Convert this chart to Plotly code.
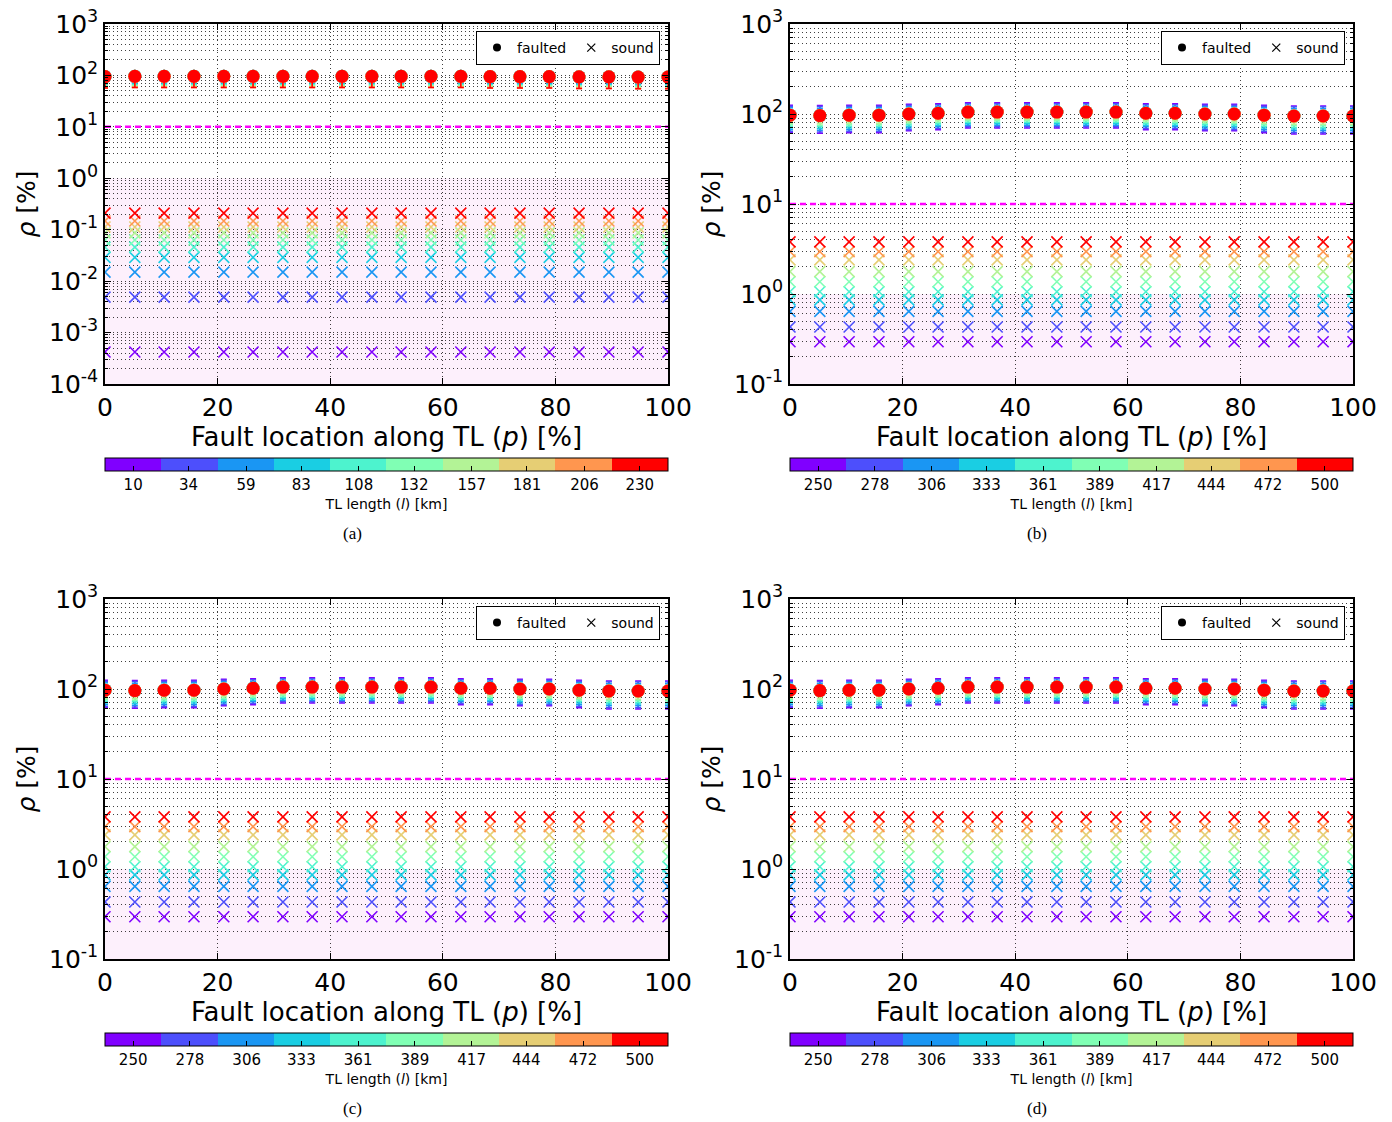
import plotly.graph_objects as go

W, H = 1392, 1122

# ---------------- data ----------------
fault_location = [0.0, 5.3, 10.5, 15.8, 21.1, 26.3, 31.6, 36.8, 42.1, 47.4,
                  52.6, 57.9, 63.2, 68.4, 73.7, 78.9, 84.2, 89.5, 94.7, 100.0]

lengths_a = [10, 34, 59, 83, 108, 132, 157, 181, 206, 230]
lengths_bcd = [250, 278, 306, 333, 361, 389, 417, 444, 472, 500]

# sound-phase rho [%] per TL length (flat along the line)
sound_a = [0.00042, 0.0049, 0.015, 0.029, 0.046, 0.063, 0.087, 0.113, 0.148, 0.21]
sound_bcd = [0.295, 0.43, 0.64, 0.86, 1.06, 1.37, 1.77, 2.39, 2.96, 3.8]

# faulted-phase rho [%] along the line
faulted_a = [95, 96, 96, 96, 96, 96, 96, 96, 96, 96,
             96, 96, 96, 95, 95, 95, 94, 94, 93, 93]
faulted_bcd = [97, 96, 97, 97, 100, 102, 105, 105, 105, 105,
               105, 105, 102, 102, 100, 100, 97, 95, 95, 95]

# spread of faulted values per TL length
err_minus_a = [20, 22, 25, 28, 30, 32, 34, 36, 38, 38]
err_plus_a = [10, 14, 6, 4, 3, 2, 2, 2, 2, 2]
err_minus_bcd = [35, 33, 30, 27, 24, 21, 18, 14, 10, 6]
err_plus_bcd = [28, 25, 20, 15, 12, 9, 7, 5, 3, 2]

threshold = 10

y_exponents_a = [-4, -3, -2, -1, 0, 1, 2, 3]
y_exponents_bcd = [-1, 0, 1, 2, 3]
x_ticks = [0, 20, 40, 60, 80, 100]

rainbow = ['#8000ff', '#4d4ffc', '#1a96f3', '#1acee3', '#4df3ce',
           '#80ffb4', '#b3f396', '#e6ce74', '#ff964f', '#ff0000']

# ---------------- layout helpers ----------------
panels = [
    dict(tag='(a)', px=(105, 668), py=(24, 384), exps=y_exponents_a, lengths=lengths_a,
         sound=sound_a, faulted=faulted_a, em=err_minus_a, ep=err_plus_a,
         cap=(352, 533), cby=458, leg='legend'),
    dict(tag='(b)', px=(790, 1353), py=(24, 384), exps=y_exponents_bcd, lengths=lengths_bcd,
         sound=sound_bcd, faulted=faulted_bcd, em=err_minus_bcd, ep=err_plus_bcd,
         cap=(1037, 533), cby=458, leg='legend2'),
    dict(tag='(c)', px=(105, 668), py=(599, 959), exps=y_exponents_bcd, lengths=lengths_bcd,
         sound=sound_bcd, faulted=faulted_bcd, em=err_minus_bcd, ep=err_plus_bcd,
         cap=(352, 1108), cby=1033, leg='legend3'),
    dict(tag='(d)', px=(790, 1353), py=(599, 959), exps=y_exponents_bcd, lengths=lengths_bcd,
         sound=sound_bcd, faulted=faulted_bcd, em=err_minus_bcd, ep=err_plus_bcd,
         cap=(1037, 1108), cby=1033, leg='legend4'),
]

FONT = 'DejaVu Sans'
GRIDC = 'rgba(0,0,0,0.75)'
GDASH = '1px,3px'

fig = go.Figure()
layout = dict(width=W, height=H, margin=dict(l=0, r=0, t=0, b=0, autoexpand=False),
              paper_bgcolor='white', plot_bgcolor='white',
              font=dict(family=FONT, color='black'), shapes=[], annotations=[])

for i, p in enumerate(panels, start=1):
    xa = 'x' if i == 1 else f'x{i}'
    ya = 'y' if i == 1 else f'y{i}'
    xkey = 'xaxis' if i == 1 else f'xaxis{i}'
    ykey = 'yaxis' if i == 1 else f'yaxis{i}'
    lengths = p['lengths']
    step = (lengths[-1] - lengths[0]) / (len(lengths) - 1)
    cmin, cmax = lengths[0] - step / 2, lengths[-1] + step / 2
    cscale = []
    for k, c in enumerate(rainbow):
        cscale.append([k / len(rainbow), c])
        cscale.append([(k + 1) / len(rainbow), c])

    # faulted (circles with spread bars), purple first so red is on top
    for k, L in enumerate(lengths):
        n = len(fault_location)
        fig.add_trace(go.Scatter(
            x=fault_location, y=p['faulted'], mode='markers', xaxis=xa, yaxis=ya,
            marker=dict(symbol='circle', size=13, color=rainbow[k], line=dict(width=0)),
            error_y=dict(type='data', symmetric=False, array=[p['ep'][k]] * n,
                         arrayminus=[p['em'][k]] * n, color=rainbow[k],
                         thickness=1.5, width=3),
            showlegend=False, hoverinfo='skip'))

    # sound (x markers), coloured by TL length through a discrete colorscale
    sx, sy, sc = [], [], []
    for k, L in enumerate(lengths):
        for xv in fault_location:
            sx.append(xv)
            sy.append(p['sound'][k])
            sc.append(L)
    cb_center = (p['px'][0] + p['px'][1]) / 2
    fig.add_trace(go.Scatter(
        x=sx, y=sy, mode='markers', xaxis=xa, yaxis=ya, showlegend=False, hoverinfo='skip',
        marker=dict(symbol='x-thin', size=11, color=sc, colorscale=cscale, cmin=cmin, cmax=cmax,
                    showscale=True,
                    line=dict(width=1.6, color=sc, colorscale=cscale, cmin=cmin, cmax=cmax),
                    colorbar=dict(orientation='h', thickness=13, thicknessmode='pixels',
                                  len=p['px'][1] - p['px'][0], lenmode='pixels',
                                  x=cb_center / W, xanchor='center',
                                  y=1 - p['cby'] / H, yanchor='top', ypad=0, xpad=0,
                                  outlinecolor='black', outlinewidth=1,
                                  tickvals=lengths, ticktext=[str(v) for v in lengths],
                                  ticks='inside', ticklen=5, tickcolor='black',
                                  tickfont=dict(size=15, family=FONT),
                                  title=dict(text='TL length (<i>l</i>) [km]', side='bottom',
                                             font=dict(size=14, family=FONT))))))

    # threshold line
    fig.add_trace(go.Scatter(
        x=[x_ticks[0], x_ticks[-1]], y=[threshold, threshold], mode='lines', xaxis=xa, yaxis=ya,
        line=dict(color='#ff00ff', width=2.5, dash='6px,4px'), showlegend=False, hoverinfo='skip'))

    # legend proxies
    fig.add_trace(go.Scatter(x=[None], y=[None], mode='markers', xaxis=xa, yaxis=ya, name='faulted',
                             marker=dict(symbol='circle', size=8, color='black'), legend=p['leg']))
    fig.add_trace(go.Scatter(x=[None], y=[None], mode='markers', xaxis=xa, yaxis=ya, name='sound',
                             marker=dict(symbol='x-thin', size=8, color='black',
                                         line=dict(width=1.2, color='black')), legend=p['leg']))

    exps = p['exps']
    minor_vals = [m * 10 ** e for e in exps[:-1] for m in range(2, 10)]
    layout[xkey] = dict(domain=[p['px'][0] / W, p['px'][1] / W], anchor=ya, range=[0, 100],
                        tickvals=x_ticks, showgrid=True, gridcolor=GRIDC, griddash=GDASH, gridwidth=1,
                        showline=True, linecolor='black', linewidth=1.5, mirror='ticks',
                        ticks='inside', ticklen=6, tickcolor='black', zeroline=False,
                        tickfont=dict(size=25, family=FONT),
                        title=dict(text='Fault location along TL (<i>p</i>) [%]',
                                   font=dict(size=26, family=FONT), standoff=3))
    layout[ykey] = dict(domain=[1 - p['py'][1] / H, 1 - p['py'][0] / H], anchor=xa, type='log',
                        range=[exps[0], exps[-1]],
                        tickvals=[10 ** e for e in exps],
                        ticktext=[f'10<sup>{e}</sup>' for e in exps],
                        showgrid=True, gridcolor=GRIDC, griddash=GDASH, gridwidth=1,
                        minor=dict(tickvals=minor_vals, showgrid=True, gridcolor=GRIDC,
                                   griddash=GDASH, gridwidth=1, ticks='inside', ticklen=3,
                                   tickcolor='black'),
                        showline=True, linecolor='black', linewidth=1.5, mirror='ticks',
                        ticks='inside', ticklen=6, tickcolor='black', zeroline=False,
                        tickfont=dict(size=25, family=FONT),
                        title=dict(text='<i>ρ</i> [%]', font=dict(size=25, family=FONT), standoff=6))

    # shaded region below threshold
    layout['shapes'].append(dict(type='rect', xref=xa, yref=ya, x0=0, x1=100,
                                 y0=exps[0], y1=1, fillcolor='rgb(253,240,252)',
                                 line=dict(width=0), layer='below'))

    # legend box
    layout[p['leg']] = dict(x=(p['px'][1] - 8) / W, xanchor='right', y=1 - (p['py'][0] + 7) / H,
                            yanchor='top', orientation='h', bgcolor='white', bordercolor='black',
                            borderwidth=1, font=dict(size=14, family=FONT),
                            itemwidth=30, tracegroupgap=0)

    # caption
    layout['annotations'].append(dict(text=p['tag'], x=p['cap'][0] / W, y=1 - p['cap'][1] / H,
                                      xref='paper', yref='paper', showarrow=False,
                                      xanchor='center', yanchor='middle',
                                      font=dict(size=17, family='Liberation Serif')))

fig.update_layout(**layout)
fig.write_html('out.html', config={'displayModeBar': False},
               post_script="document.body.style.margin='0px';")
